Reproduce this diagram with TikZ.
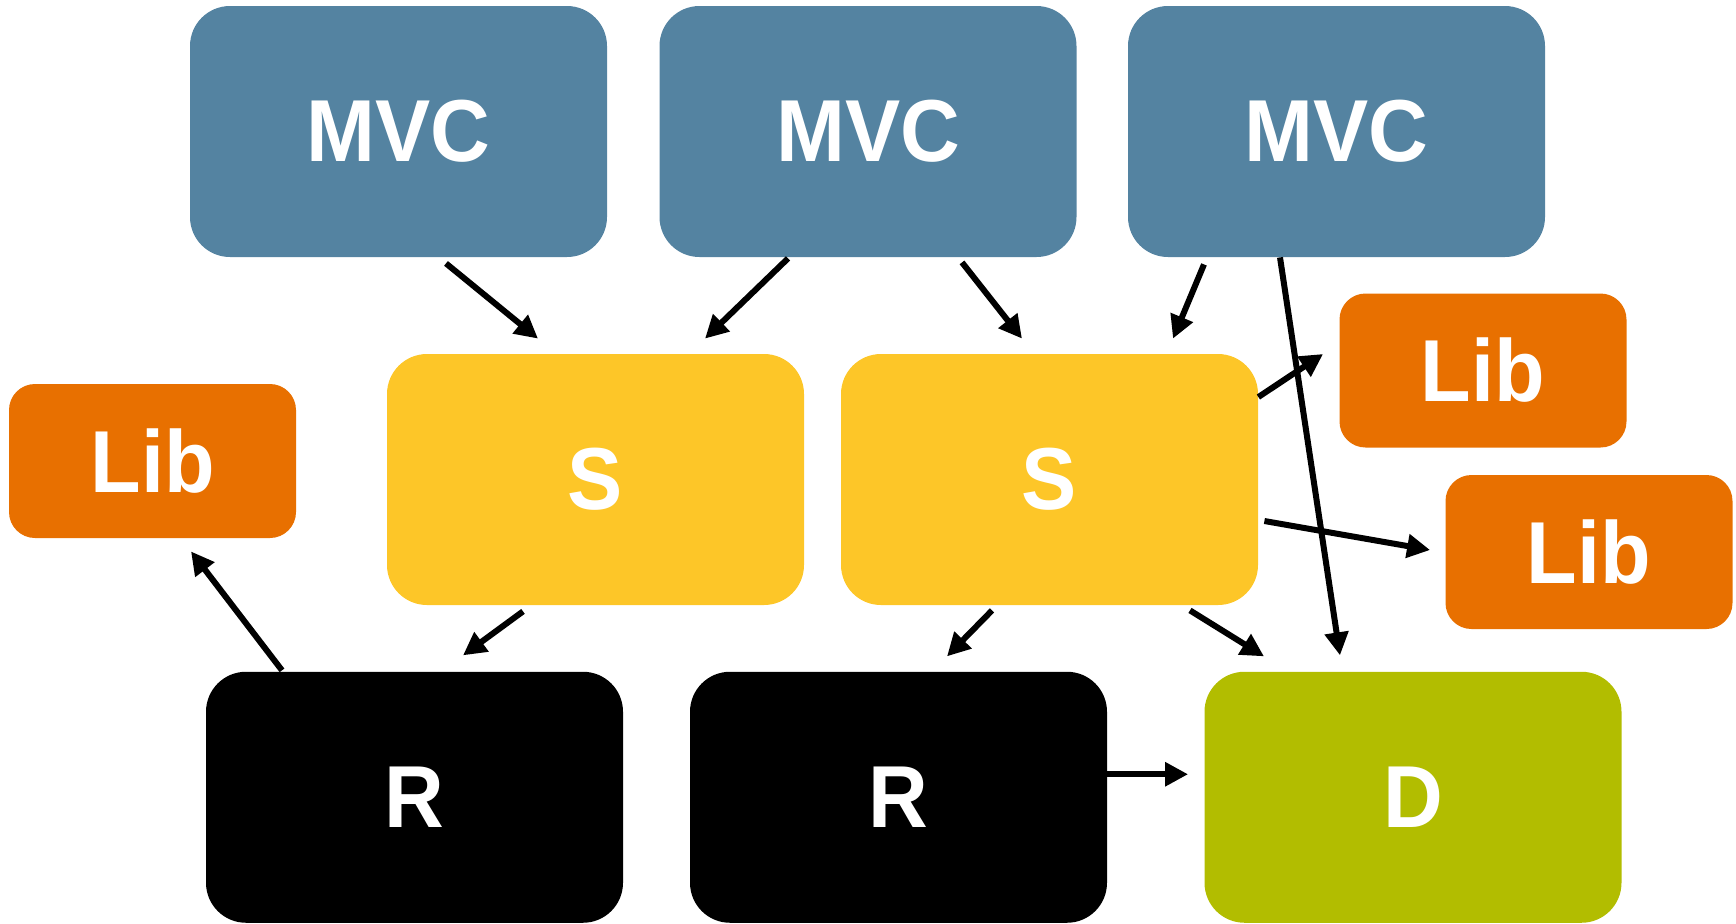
\documentclass[tikz,border=0pt]{standalone}
\usepackage{fontspec}
\setmainfont[FakeStretch=0.94]{Liberation Sans}
\usetikzlibrary{arrows.meta,calc}

\definecolor{mvcblue}{RGB}{84,131,161}
\definecolor{svcyellow}{RGB}{253,198,40}
\definecolor{liborange}{RGB}{232,112,0}
\definecolor{dbgreen}{RGB}{178,189,0}

\begin{document}
\begin{tikzpicture}[x=0.5pt,y=-0.5pt,
  bigbox/.style={rectangle,rounded corners=20pt,minimum width=208.5pt,
    minimum height=125.5pt,inner sep=0pt,text=white,
    font=\fontsize{44}{44}\selectfont\bfseries},
  libbox/.style={rectangle,rounded corners=13pt,minimum width=143.5pt,
    minimum height=77pt,inner sep=0pt,fill=liborange,text=white,
    font=\fontsize{44}{44}\selectfont\bfseries},
  mvcbox/.style={bigbox,fill=mvcblue},
  svcbox/.style={bigbox,fill=svcyellow},
  rbox/.style={bigbox,fill=black},
  dbox/.style={bigbox,fill=dbgreen},
  link/.style={line width=3pt,-{Triangle[length=11.5pt,width=11.5pt]}}]

\useasboundingbox (0,0) rectangle (1736,923);

% boxes
\node[mvcbox] (mvc1) at (398.5,131.5) {MVC};
\node[mvcbox] (mvc2) at (868,131.5) {MVC};
\node[mvcbox] (mvc3) at (1336.5,131.5) {MVC};

\node[libbox] (libL) at (152.5,461) {Lib};
\node[libbox] (libTR) at (1483,370.5) {Lib};
\node[libbox] (libR) at (1589,552) {Lib};

\node[svcbox] (s1) at (595.5,479.5) {S};
\node[svcbox] (s2) at (1049.5,479.5) {S};

\node[rbox] (r1) at (414.5,797.25) {R};
\node[rbox] (r2) at (898.5,797.25) {R};
\node[dbox] (d) at (1413,797.25) {D};

% connectors
\draw[link] ($(mvc1.south)+(47.5,6)$) -- ($(s1.north)+(-57.5,-15)$);
\draw[link] ($(mvc2.south)+(-80,1)$) -- ($(s1.north)+(109.5,-15)$);
\draw[link] ($(mvc2.south)+(94,5)$) -- ($(s2.north)+(-27.5,-15)$);
\draw[link] ($(mvc3.south)+(-132.5,7)$) -- ($(s2.north)+(123.5,-15)$);
\draw[link] ($(mvc3.south)+(-56.5,0)$) -- ($(d.north)+(-73,-16)$);
\draw[link] ($(s2.east)+(0,-82.5)$) -- ($(libTR.west)+(-16,-16.5)$);
\draw[link] ($(s2.east)+(6,41.5)$) -- ($(libR.west)+(-15,-2)$);
\draw[link] ($(s1.south)+(-72.5,6)$) -- ($(r1.north)+(48.5,-16)$);
\draw[link] ($(s2.south)+(-57.5,5)$) -- ($(r2.north)+(48.5,-15)$);
\draw[link] ($(s2.south)+(140.5,5)$) -- ($(d.north)+(-149,-15)$);
\draw[link] ($(r1.north)+(-132.5,-1)$) -- ($(libL.south)+(38.5,13)$);
\draw[link] ($(r2.east)+(0,-23)$) -- ($(d.west)+(-16,-23)$);

\end{tikzpicture}
\end{document}
